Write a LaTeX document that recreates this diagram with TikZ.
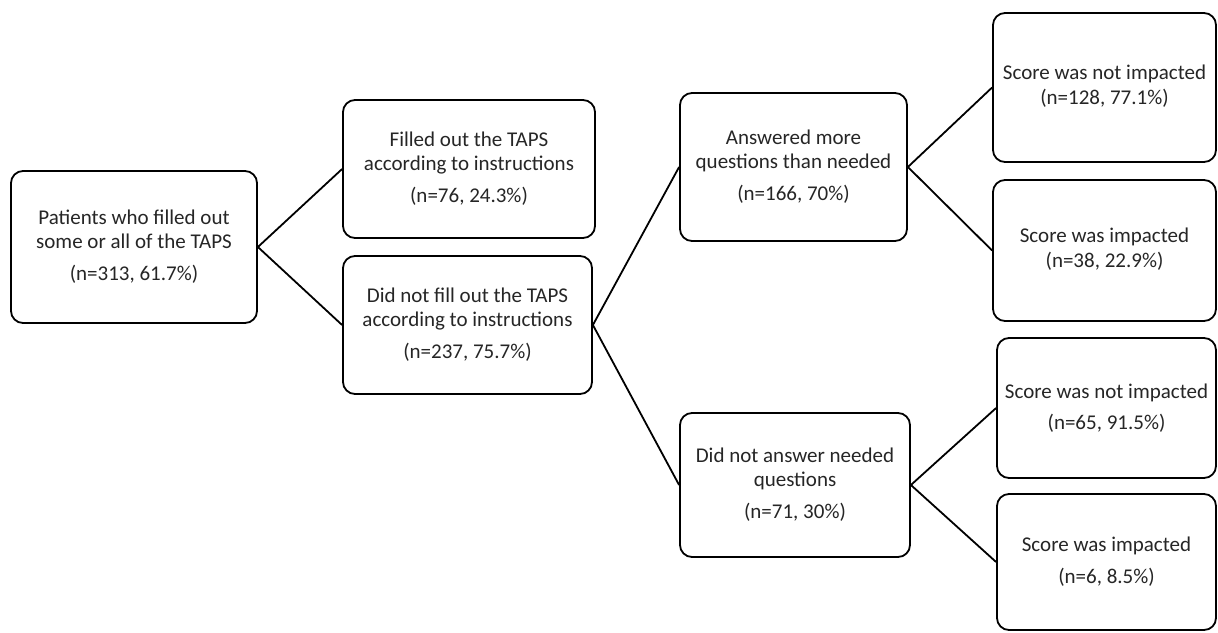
\documentclass[tikz,border=0pt]{standalone}
\usepackage{fontspec}
\setmainfont{Carlito}
\begin{document}
\begin{tikzpicture}[x=1pt,y=1pt,
  box/.style={draw=black, line width=1.8pt, rounded corners=12pt, align=center,
    inner sep=0pt, text=black!85, font=\fontsize{21}{24}\selectfont},
  link/.style={draw=black, line width=1.8pt}]
\useasboundingbox[fill=white] (0,0) rectangle (1218,-632);
\node[box, minimum width=246, minimum height=152] (A) at (134,-247)
  {Patients who filled out\\some or all of the TAPS\\[8pt](n=313, 61.7\%)};
\node[box, minimum width=252, minimum height=138] (B) at (469,-169)
  {Filled out the TAPS\\according to instructions\\[8pt](n=76, 24.3\%)};
\node[box, minimum width=249, minimum height=138] (C) at (467.5,-325)
  {Did not fill out the TAPS\\according to instructions\\[8pt](n=237, 75.7\%)};
\node[box, minimum width=227, minimum height=148] (D) at (793.5,-167)
  {Answered more\\questions than needed\\[8pt](n=166, 70\%)};
\node[box, minimum width=230, minimum height=144] (E) at (795,-485)
  {Did not answer needed\\questions\\[8pt](n=71, 30\%)};
\node[box, minimum width=223, minimum height=149] (F) at (1104.5,-87.5)
  {\raisebox{3pt}{\begin{tabular}{@{}c@{}}Score was not impacted\\[1pt](n=128, 77.1\%)\end{tabular}}};
\node[box, minimum width=223, minimum height=141] (G) at (1104.5,-250.5)
  {\raisebox{4pt}{\begin{tabular}{@{}c@{}}Score was impacted\\[1pt](n=38, 22.9\%)\end{tabular}}};
\node[box, minimum width=219, minimum height=140] (H) at (1106.5,-408)
  {Score was not impacted\\[7pt](n=65, 91.5\%)};
\node[box, minimum width=219, minimum height=136] (I) at (1106.5,-562)
  {Score was impacted\\[8pt](n=6, 8.5\%)};
\draw[link] (A.east) -- (B.west);
\draw[link] (A.east) -- (C.west);
\draw[link] (C.east) -- (D.west);
\draw[link] (C.east) -- (E.west);
\draw[link] (D.east) -- (F.west);
\draw[link] (D.east) -- (G.west);
\draw[link] (E.east) -- (H.west);
\draw[link] (E.east) -- (I.west);
\end{tikzpicture}
\end{document}
